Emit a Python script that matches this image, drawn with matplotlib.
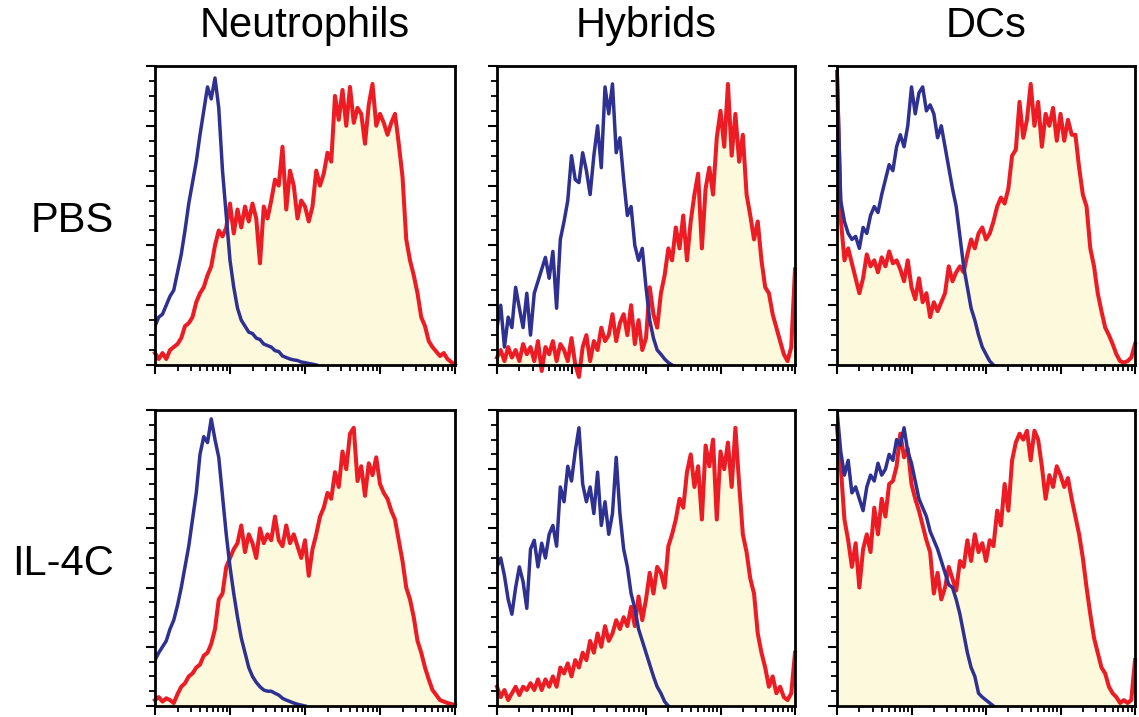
import numpy as np
import matplotlib
matplotlib.use("Agg")
import matplotlib.pyplot as plt
from matplotlib.ticker import LogLocator, MultipleLocator, NullFormatter

# Histogramas de citometria: control (azul) vs marcador (rojo, relleno)

plt.rcParams['font.family'] = ['Liberation Sans', 'DejaVu Sans']

columnas = ['Neutrophils', 'Hybrids', 'DCs']
filas = ['PBS', 'IL-4C']

# eje x: 81 canales repartidos en 4 decadas
canales = np.logspace(0, 4, 81)

# valores en % de la altura maxima
neut_pbs_azul = [13, 16, 17, 20, 23, 25, 31, 37, 45, 54,
                 61, 68, 77, 85, 93, 89, 96, 86, 65, 50,
                 35, 26, 19, 15, 13, 11, 10.5, 9, 8.5, 7,
                 6.5, 6, 4.8, 4.5, 3, 2.5, 2, 1.7, 1.5, 1,
                 0.8, 0.5, 0.3, 0]
neut_pbs_rojo = [4, 2, 4, 2, 5, 6, 7, 9, 13, 14,
                 16, 21, 24, 26, 30, 33, 40, 45, 43, 46,
                 54, 44, 52, 46, 53, 48, 54, 49, 34, 53,
                 49, 55, 62, 60, 73, 52, 65, 60, 49, 55,
                 53, 48, 53, 65, 60, 64, 71, 68, 90, 82,
                 92, 80, 93, 81, 86, 84, 74, 87, 94, 80,
                 84, 81, 77, 81, 84, 74, 63, 42, 35, 30,
                 24, 16, 13, 8, 6, 4.5, 3, 4, 2, 1, 0]

hib_pbs_azul = [12.5, 20, 6, 16, 12.5, 26, 19, 12.5, 24, 10,
                24, 28, 32, 36, 29, 38, 19, 42, 48, 55,
                70, 62, 61, 71, 65, 57, 70, 80, 66, 93,
                84, 94, 71, 76, 62, 50, 53, 40, 35, 39,
                26, 15, 9, 5, 3.6, 2, 0.8, 0]
hib_pbs_rojo = [2.5, 5, 1.3, 6, 2.5, 5, 1.3, 7, 3.6, 6,
                1.3, 8, -2, 6, 3.6, 8, 1.3, 7, 5, 1.3,
                9, 0.2, -4, 6, 10, 1.3, 8, 5, 12.5, 8,
                10, 17, 8, 14, 17, 10, 20, 7, 15, 5,
                9, 26, 17, 12.5, 24, 30, 39, 35, 46, 39,
                50, 35, 48, 57, 64, 39, 59, 66, 57, 76,
                85, 73, 94, 70, 84, 68, 77, 57, 50, 42,
                48, 35, 26, 24, 17, 12.5, 8, 3.6, 1.3, 6, 32]

dc_pbs_azul = [100, 55, 48, 44, 42, 43, 39, 46, 44, 50,
               53, 51, 57, 62, 67, 65, 73, 77, 73, 80,
               93, 84, 91, 93, 85, 87, 84, 76, 80, 73,
               66, 59, 53, 43, 33, 26, 19, 15, 10, 6,
               3.6, 1.3, 0]
dc_pbs_rojo = [98, 49, 35, 39, 34, 29, 24, 29, 37, 33,
               35, 31, 36, 33, 38, 34, 35, 32, 28, 35,
               26, 22, 29, 21, 24, 16, 21, 18, 21, 24,
               33, 28, 31, 33, 31, 37, 42, 39, 44, 46,
               42, 44, 48, 53, 56, 54, 59, 70, 72, 88,
               76, 82, 94, 80, 88, 73, 84, 80, 86, 75,
               84, 75, 82, 77, 77, 66, 57, 53, 39, 33,
               24, 18, 12.5, 10, 7, 3.6, 1.3, 0.8, 1.3, 2.5, 7]

neut_il4c_azul = [15.5, 18, 20, 22, 26, 29, 34, 40, 47, 54,
                  63, 72, 85, 91, 89, 97, 90, 84, 71, 58,
                  47, 38, 30, 23, 18, 13, 10, 8, 6.5, 5.4,
                  5, 5, 4.3, 3.7, 2.6, 2, 1.5, 1, 0.6, 0.3, 0]
neut_il4c_rojo = [2, 3, 1.5, 2.6, 2, 1, 4, 6.5, 7.7, 10,
                  11, 13, 14, 17, 18, 21, 26, 36, 38, 47,
                  50, 53, 55, 61, 52, 58, 55, 50, 60, 55,
                  58, 56, 64, 56, 54, 61, 55, 58, 54, 50,
                  56, 44, 53, 58, 64, 67, 72, 70, 79, 74,
                  86, 80, 92, 94, 76, 81, 71, 82, 78, 84,
                  75, 72, 70, 66, 63, 56, 49, 40, 36, 30,
                  22, 18, 13, 9, 5.4, 3.7, 2, 1.5, 1, 0.7, 0.3]

hib_il4c_azul = [47, 50, 44, 36, 31, 40, 47, 42, 33, 53,
                 56, 47, 55, 50, 58, 61, 54, 74, 69, 81,
                 76, 86, 94, 75, 69, 74, 65, 79, 61, 69,
                 58, 65, 84, 65, 53, 47, 38, 33, 26, 22,
                 18, 14, 10, 6.5, 4.3, 1.5, 0]
hib_il4c_rojo = [6.5, 3, 5.4, 2, 4.3, 6.5, 3.7, 6.5, 5.4, 7.7,
                 5.4, 9, 5.4, 9, 6.5, 10, 6.5, 13, 11, 14.4,
                 10, 15.5, 13, 18, 15.5, 22, 18, 24.5, 20, 27,
                 22, 24.5, 29, 26, 30, 27, 33.5, 27, 37, 29,
                 36, 45, 38, 47, 45, 40, 54, 58, 63, 70,
                 67, 79, 85, 74, 81, 63, 88, 81, 90, 63,
                 86, 80, 89, 74, 94, 75, 58, 52, 43, 38,
                 24.5, 18, 13, 6.5, 10, 4.3, 6.5, 3, 2, 4.3, 18]

dc_il4c_azul = [100, 86, 78, 83, 72, 74, 70, 66, 74, 78,
                76, 82, 78, 80, 85, 83, 90, 88, 94, 86,
                82, 76, 70, 67, 64, 59, 56, 53, 49, 45,
                41, 40, 36, 31, 24.5, 18, 13, 10, 4.3, 3,
                2, 1, 0]
dc_il4c_rojo = [94, 81, 63, 56, 47, 55, 40, 53, 58, 52,
                67, 58, 70, 64, 75, 76, 81, 92, 84, 87,
                75, 70, 66, 61, 56, 52, 38, 45, 36, 40,
                47, 43, 39, 49, 47, 56, 49, 58, 52, 55,
                49, 56, 54, 66, 61, 75, 66, 83, 89, 92,
                90, 93, 83, 93, 90, 81, 70, 78, 74, 81,
                78, 74, 77, 70, 64, 58, 50, 40, 31, 23,
                18, 13, 11, 6.5, 4.3, 3, 1, 2, 1, 2, 15.5]

paneles = [
    [(neut_pbs_azul, neut_pbs_rojo), (hib_pbs_azul, hib_pbs_rojo), (dc_pbs_azul, dc_pbs_rojo)],
    [(neut_il4c_azul, neut_il4c_rojo), (hib_il4c_azul, hib_il4c_rojo), (dc_il4c_azul, dc_il4c_rojo)],
]

COLOR_ROJO = '#ED1C24'
COLOR_AZUL = '#2E3192'
COLOR_RELLENO = '#FDF9DC'

W, H = 1139, 717
fig = plt.figure(figsize=(W / 100, H / 100), dpi=100)

# posiciones en pixeles (izquierda, ancho) y (arriba, abajo)
cols_px = [(155, 300), (497, 298), (837, 298)]
filas_px = [(66, 365), (410, 706)]

for r, (top, bottom) in enumerate(filas_px):
    for c, (left, width) in enumerate(cols_px):
        ax = fig.add_axes([left / W, 1 - bottom / H, width / W, (bottom - top) / H])
        azul, rojo = paneles[r][c]
        ax.fill_between(canales, 0, rojo, color=COLOR_RELLENO, lw=0, zorder=1)
        ax.plot(canales, rojo, color=COLOR_ROJO, lw=2.9, zorder=2, clip_on=False)
        ax.plot(canales[:len(azul)], azul, color=COLOR_AZUL, lw=2.5, zorder=3)

        ax.set_xscale('log')
        ax.set_xlim(1, 1e4)
        ax.set_ylim(0, 100)
        ax.xaxis.set_major_locator(LogLocator(base=10, numticks=10))
        ax.xaxis.set_minor_locator(LogLocator(base=10, subs=np.arange(2, 10), numticks=10))
        ax.xaxis.set_major_formatter(NullFormatter())
        ax.xaxis.set_minor_formatter(NullFormatter())
        ax.yaxis.set_major_locator(MultipleLocator(20))
        ax.yaxis.set_minor_locator(MultipleLocator(5))
        ax.yaxis.set_major_formatter(NullFormatter())
        ax.tick_params(which='major', direction='out', length=6.5, width=1.5, color='black')
        ax.tick_params(which='minor', direction='out', length=4, width=1.3, color='black')
        for s in ax.spines.values():
            s.set_linewidth(2)
            s.set_zorder(4)

for c, (left, width) in enumerate(cols_px):
    fig.text((left + width / 2) / W, 1 - 37 / H, columnas[c], ha='center', va='baseline', fontsize=30)

for r, (top, bottom) in enumerate(filas_px):
    fig.text(114 / W, 1 - ((top + bottom) / 2 + 6) / H, filas[r], ha='right', va='center', fontsize=30)

fig.savefig('out.png', dpi=100)
plt.close(fig)
